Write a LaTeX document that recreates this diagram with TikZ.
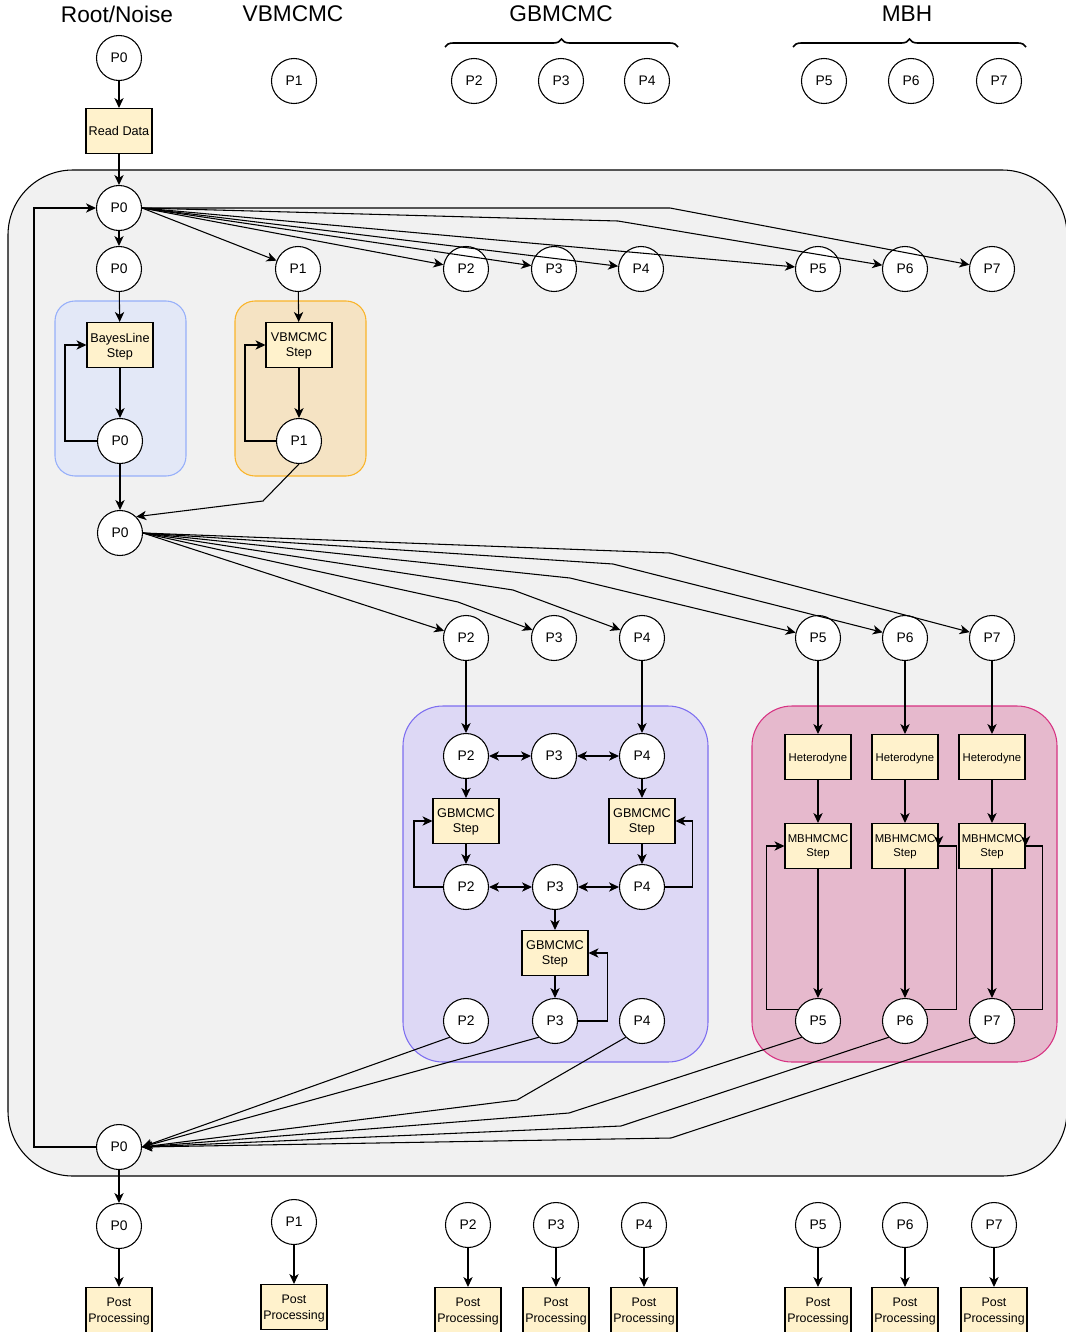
\documentclass[tikz,border=0pt]{standalone}
\usepackage{fontspec}
\setmainfont{Liberation Sans}
\usetikzlibrary{arrows.meta,decorations.pathreplacing}
\definecolor{boxfill}{RGB}{255,242,204}
\definecolor{bgfill}{RGB}{241,241,241}
\definecolor{bluefill}{RGB}{227,232,247}
\definecolor{bluedraw}{RGB}{150,175,250}
\definecolor{orangefill}{RGB}{245,227,195}
\definecolor{orangedraw}{RGB}{250,180,40}
\definecolor{purplefill}{RGB}{221,216,245}
\definecolor{purpledraw}{RGB}{125,110,240}
\definecolor{pinkfill}{RGB}{230,185,205}
\definecolor{pinkdraw}{RGB}{215,50,130}
\begin{document}
\begin{tikzpicture}[x=0.75pt,y=-0.75pt,line width=0.8pt,
    proc/.style={circle, draw, fill=white, minimum size=33.75pt, inner sep=0pt, font=\fontsize{10.4}{12}\selectfont},
    stepbox/.style={rectangle, draw, fill=boxfill, minimum width=49.5pt, minimum height=33.75pt, inner sep=0pt, align=center, text depth=-1pt, font=\fontsize{9.5}{11.25}\selectfont},
    mbhbox/.style={stepbox, font=\fontsize{8.5}{10.5}\selectfont},
    postbox/.style={stepbox, font=\fontsize{9.3}{12}\selectfont},
    title/.style={font=\fontsize{17}{20}\selectfont},
    grp/.style={rounded corners=#1},
    arr/.style={-{Stealth[length=7.5pt,width=7pt,inset=2.2pt]}},
    dbl/.style={{Stealth[length=7.5pt,width=7pt,inset=2.2pt]}-{Stealth[length=7.5pt,width=7pt,inset=2.2pt]}},
    brc/.style={decorate, decoration={brace,amplitude=6pt}, line width=1.2pt}]
    \useasboundingbox (0,0) rectangle (1065,1332);

    \draw[grp=48.75pt, fill=bgfill] (8,170) rectangle (1067,1176);
    \draw[grp=15pt, fill=bluefill, draw=bluedraw] (55,301) rectangle (186,476);
    \draw[grp=15pt, fill=orangefill, draw=orangedraw] (235,301) rectangle (366,476);
    \draw[grp=30pt, fill=purplefill, draw=purpledraw] (403,706) rectangle (708,1062);
    \draw[grp=30pt, fill=pinkfill, draw=pinkdraw] (752,706) rectangle (1057,1062);

    \node[title](hr)at(117,14){Root/Noise};
    \node[title](hv)at(293,14){VBMCMC};
    \node[title](hg)at(561,14){GBMCMC};
    \node[title](hm)at(907,14){MBH};
    \draw[brc] (445,47)--(678,47);
    \draw[brc] (793,47)--(1026,47);

    \node[proc](s0)at(119,58){P0};
    \node[stepbox](rd)at(119,131){Read Data};
    \node[proc](s1)at(294,81){P1};
    \node[proc](s2)at(474,81){P2};
    \node[proc](s3)at(561,81){P3};
    \node[proc](s4)at(647,81){P4};
    \node[proc](s5)at(824,81){P5};
    \node[proc](s6)at(911,81){P6};
    \node[proc](s7)at(999,81){P7};
    \draw[arr] (s0)--(rd);

    \node[proc](t0)at(119,208){P0};
    \node[proc](a0)at(119,269){P0};
    \node[proc](a1)at(298,269){P1};
    \node[proc](a2)at(466,269){P2};
    \node[proc](a3)at(554,269){P3};
    \node[proc](a4)at(641,269){P4};
    \node[proc](a5)at(818,269){P5};
    \node[proc](a6)at(905,269){P6};
    \node[proc](a7)at(992,269){P7};
    \draw[arr] (rd)--(t0);
    \draw[arr] (t0)--(a0);
    \draw[arr] (t0.east)--(a1);
    \draw[arr] (t0.east)--(a2);
    \draw[arr] (t0.east)--(a3);
    \draw[arr] (t0.east)--(a4);
    \draw[arr] (t0.east)--(a5);
    \draw[arr] (t0.east)--(618,221)--(a6);
    \draw[arr] (t0.east)--(670,208)--(a7);

    \node[stepbox](bl)at(120,345){BayesLine\\Step};
    \node[proc](q0)at(120,441){P0};
    \node[stepbox](vb)at(299,345){VBMCMC\\Step};
    \node[proc](q1)at(299,441){P1};
    \draw[arr] (a0)--(bl);
    \draw[arr] (bl)--(q0);
    \draw[arr] (q0.west)--++(-32,0)|-(bl.west);
    \draw[arr] (a1)--(vb);
    \draw[arr] (vb)--(q1);
    \draw[arr] (q1.west)--++(-31,0)|-(vb.west);

    \node[proc](m0)at(120,533){P0};
    \draw[arr] (q0)--(m0);
    \draw[arr] (q1.south)--(263,501)--(m0.north east);

    \node[proc](c2)at(466,638){P2};
    \node[proc](c3)at(554,638){P3};
    \node[proc](c4)at(642,638){P4};
    \node[proc](c5)at(818,638){P5};
    \node[proc](c6)at(905,638){P6};
    \node[proc](c7)at(992,638){P7};
    \draw[arr] (m0.east)--(c2);
    \draw[arr] (m0.east)--(458,602)--(c3);
    \draw[arr] (m0.east)--(513,590)--(c4);
    \draw[arr] (m0.east)--(570,578)--(c5);
    \draw[arr] (m0.east)--(613,564)--(c6);
    \draw[arr] (m0.east)--(670,553)--(c7);

    \node[proc](d2)at(466,756){P2};
    \node[proc](d3)at(554,756){P3};
    \node[proc](d4)at(642,756){P4};
    \node[stepbox](g1)at(466,821){GBMCMC\\Step};
    \node[stepbox](g2)at(642,821){GBMCMC\\Step};
    \node[proc](e2)at(466,887){P2};
    \node[proc](e3)at(555,887){P3};
    \node[proc](e4)at(642,887){P4};
    \node[stepbox](g3)at(555,953){GBMCMC\\Step};
    \node[proc](f2)at(466,1021){P2};
    \node[proc](f3)at(555,1021){P3};
    \node[proc](f4)at(642,1021){P4};
    \draw[arr] (c2)--(d2);
    \draw[arr] (c4)--(d4);
    \draw[dbl] (d2)--(d3);
    \draw[dbl] (d3)--(d4);
    \draw[arr] (d2)--(g1);
    \draw[arr] (d4)--(g2);
    \draw[arr] (g1)--(e2);
    \draw[arr] (g2)--(e4);
    \draw[dbl] (e2)--(e3);
    \draw[dbl] (e3)--(e4);
    \draw[arr] (e2.west)--++(-29,0)|-(g1.west);
    \draw[arr] (e4.east)--++(27,0)|-(g2.east);
    \draw[arr] (e3)--(g3);
    \draw[arr] (g3)--(f3);
    \draw[arr] (f3.east)--++(29,0)|-(g3.east);

    \node[mbhbox](ht5)at(818,757){Heterodyne};
    \node[mbhbox](ht6)at(905,757){Heterodyne};
    \node[mbhbox](ht7)at(992,757){Heterodyne};
    \node[mbhbox](mb5)at(818,846){MBHMCMC\\Step};
    \node[mbhbox](mb6)at(905,846){MBHMCMC\\Step};
    \node[mbhbox](mb7)at(992,846){MBHMCMC\\Step};
    \node[proc](f5)at(818,1021){P5};
    \node[proc](f6)at(905,1021){P6};
    \node[proc](f7)at(992,1021){P7};
    \draw[arr] (c5)--(ht5);
    \draw[arr] (c6)--(ht6);
    \draw[arr] (c7)--(ht7);
    \draw[arr] (ht5)--(mb5);
    \draw[arr] (ht6)--(mb6);
    \draw[arr] (ht7)--(mb7);
    \draw[arr] (mb5)--(f5);
    \draw[arr] (mb6)--(f6);
    \draw[arr] (mb7)--(f7);
    \draw[arr] (f5.150)--++(-32,0)|-(mb5.west);
    \draw (f6.30)--++(31.5,0)|-(mb6.east);
    \draw[arr] (mb6.east)++(0,-10)--(mb6.east);
    \draw (f7.30)--++(31,0)|-(mb7.east);
    \draw[arr] (mb7.east)++(0,-10)--(mb7.east);

    \node[proc](z0)at(119,1147){P0};
    \draw[arr] (f2.225)--(z0.east);
    \draw[arr] (f3.225)--(z0.east);
    \draw[arr] (f4.225)--(517,1100)--(z0.east);
    \draw[arr] (f5.225)--(569,1113)--(z0.east);
    \draw[arr] (f6.225)--(621,1126)--(z0.east);
    \draw[arr] (f7.225)--(671,1138)--(z0.east);
    \draw[arr] (z0.west)--(34,1147)|-(t0.west);

    \node[proc](o0)at(119,1226){P0};
    \node[proc](o1)at(294,1222){P1};
    \node[proc](o2)at(468,1225){P2};
    \node[proc](o3)at(556,1225){P3};
    \node[proc](o4)at(644,1225){P4};
    \node[proc](o5)at(818,1225){P5};
    \node[proc](o6)at(905,1225){P6};
    \node[proc](o7)at(994,1225){P7};
    \node[postbox](pp0)at(119,1310){Post\\Processing};
    \node[postbox](pp1)at(294,1307){Post\\Processing};
    \node[postbox](pp2)at(468,1310){Post\\Processing};
    \node[postbox](pp3)at(556,1310){Post\\Processing};
    \node[postbox](pp4)at(644,1310){Post\\Processing};
    \node[postbox](pp5)at(818,1310){Post\\Processing};
    \node[postbox](pp6)at(905,1310){Post\\Processing};
    \node[postbox](pp7)at(994,1310){Post\\Processing};
    \draw[arr] (z0)--(o0);
    \draw[arr] (o0)--(pp0);
    \draw[arr] (o1)--(pp1);
    \draw[arr] (o2)--(pp2);
    \draw[arr] (o3)--(pp3);
    \draw[arr] (o4)--(pp4);
    \draw[arr] (o5)--(pp5);
    \draw[arr] (o6)--(pp6);
    \draw[arr] (o7)--(pp7);
\end{tikzpicture}
\end{document}
